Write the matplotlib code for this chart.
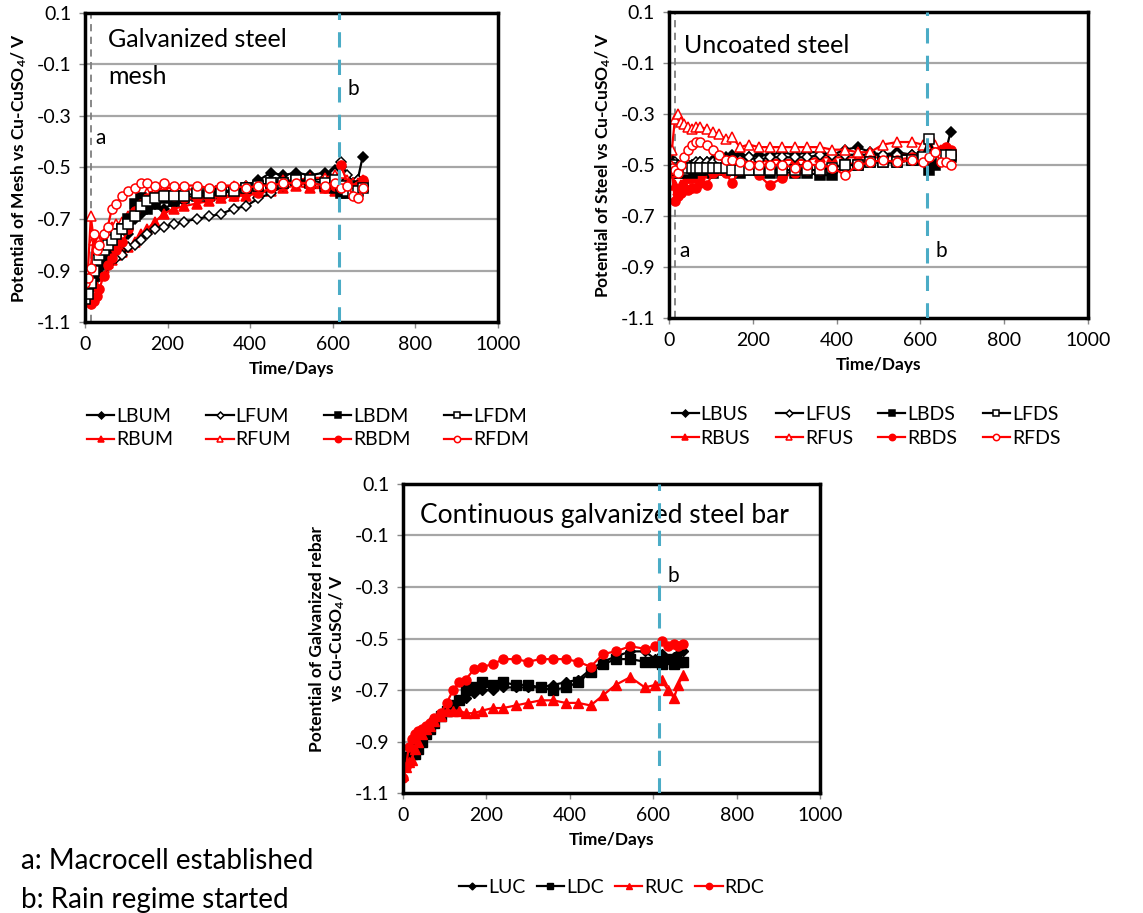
import matplotlib
matplotlib.use("Agg")
import matplotlib.pyplot as plt

plt.rcParams['font.family'] = ['Lato', 'DejaVu Sans']
plt.rcParams['mathtext.default'] = 'regular'

# Данные: время, сутки
days = [0, 7, 14, 21, 28, 35, 45, 55, 65, 75, 90, 105, 120, 135, 150, 170, 190, 215,
        240, 270, 300, 330, 360, 390, 420, 450, 480, 510, 545, 580, 605, 620, 635, 650, 660, 672]

# Оцинкованная сетка
LBUM = [-0.97, -0.96, -0.95, -0.96, -0.93, -0.90, -0.88, -0.86, -0.84, -0.83, -0.80, -0.76, -0.70, -0.68, -0.66, -0.64, -0.66, -0.64,
        -0.63, -0.62, -0.62, -0.60, -0.59, -0.57, -0.55, -0.52, -0.53, -0.52, -0.53, -0.52, -0.51, -0.50, -0.55, -0.57, -0.55, -0.46]
LFUM = [-0.98, -0.97, -0.95, -0.93, -0.92, -0.91, -0.89, -0.88, -0.86, -0.85, -0.84, -0.81, -0.80, -0.78, -0.76, -0.74, -0.73, -0.72,
        -0.71, -0.70, -0.69, -0.68, -0.66, -0.65, -0.62, -0.60, -0.57, -0.55, -0.55, -0.54, -0.52, -0.48, -0.53, -0.56, -0.55, -0.57]
LBDM = [-1.00, -0.98, -0.95, -0.92, -0.90, -0.88, -0.85, -0.83, -0.80, -0.78, -0.74, -0.70, -0.64, -0.62, -0.66, -0.64, -0.62, -0.63,
        -0.62, -0.61, -0.61, -0.60, -0.59, -0.58, -0.57, -0.56, -0.56, -0.55, -0.56, -0.57, -0.58, -0.60, -0.60, -0.58, -0.57, -0.57]
LFDM = [-1.01, -0.99, -0.95, -0.90, -0.86, -0.84, -0.82, -0.80, -0.78, -0.76, -0.74, -0.72, -0.69, -0.65, -0.63, -0.62, -0.61, -0.61,
        -0.61, -0.60, -0.60, -0.59, -0.59, -0.58, -0.57, -0.56, -0.56, -0.55, -0.55, -0.56, -0.55, -0.57, -0.59, -0.60, -0.59, -0.58]
RBUM = [-0.98, -0.97, -0.96, -0.94, -0.92, -0.91, -0.89, -0.87, -0.86, -0.84, -0.83, -0.81, -0.79, -0.76, -0.74, -0.71, -0.68, -0.66,
        -0.65, -0.64, -0.63, -0.62, -0.61, -0.61, -0.60, -0.59, -0.58, -0.57, -0.58, -0.58, -0.59, -0.57, -0.58, -0.56, -0.57, -0.55]
RFUM = [-0.95, -0.90, -0.69, -0.78, -0.80, -0.78, -0.76, -0.75, -0.73, -0.72, -0.71, -0.69, -0.65, -0.62, -0.60, -0.59, -0.58, -0.58,
        -0.58, -0.59, -0.59, -0.58, -0.57, -0.57, -0.57, -0.56, -0.55, -0.55, -0.54, -0.54, -0.53, -0.52, -0.55, -0.56, -0.56, -0.56]
RBDM = [-0.99, -1.00, -1.03, -1.02, -1.00, -0.97, -0.92, -0.88, -0.85, -0.82, -0.79, -0.74, -0.67, -0.64, -0.62, -0.61, -0.60, -0.61,
        -0.62, -0.62, -0.62, -0.61, -0.61, -0.60, -0.60, -0.58, -0.57, -0.56, -0.57, -0.58, -0.57, -0.49, -0.56, -0.58, -0.57, -0.55]
RFDM = [-0.95, -0.93, -0.89, -0.76, -0.82, -0.80, -0.76, -0.73, -0.66, -0.64, -0.61, -0.59, -0.58, -0.56, -0.56, -0.57, -0.56, -0.57,
        -0.57, -0.57, -0.58, -0.57, -0.57, -0.58, -0.57, -0.57, -0.56, -0.56, -0.56, -0.57, -0.56, -0.58, -0.57, -0.61, -0.62, -0.58]

# Сталь без покрытия
LBUS = [-0.49, -0.48, -0.50, -0.52, -0.52, -0.51, -0.50, -0.50, -0.50, -0.49, -0.49, -0.48, -0.48, -0.47, -0.46, -0.46, -0.47, -0.46,
        -0.46, -0.45, -0.46, -0.45, -0.45, -0.46, -0.44, -0.43, -0.45, -0.46, -0.45, -0.46, -0.45, -0.42, -0.46, -0.47, -0.45, -0.37]
LFUS = [-0.50, -0.50, -0.49, -0.50, -0.51, -0.51, -0.50, -0.50, -0.49, -0.49, -0.49, -0.49, -0.48, -0.48, -0.48, -0.48, -0.47, -0.48,
        -0.47, -0.47, -0.47, -0.47, -0.46, -0.46, -0.46, -0.46, -0.46, -0.46, -0.46, -0.46, -0.45, -0.44, -0.46, -0.45, -0.46, -0.46]
LBDS = [-0.50, -0.51, -0.52, -0.53, -0.53, -0.52, -0.52, -0.53, -0.52, -0.52, -0.52, -0.53, -0.52, -0.52, -0.52, -0.53, -0.52, -0.52,
        -0.53, -0.53, -0.53, -0.53, -0.54, -0.54, -0.50, -0.50, -0.49, -0.49, -0.49, -0.48, -0.48, -0.52, -0.50, -0.46, -0.47, -0.47]
LFDS = [-0.50, -0.50, -0.51, -0.52, -0.52, -0.52, -0.51, -0.51, -0.51, -0.51, -0.51, -0.51, -0.51, -0.51, -0.52, -0.52, -0.52, -0.52,
        -0.52, -0.52, -0.52, -0.52, -0.52, -0.51, -0.50, -0.50, -0.49, -0.49, -0.49, -0.48, -0.47, -0.40, -0.46, -0.47, -0.46, -0.46]
RBUS = [-0.50, -0.52, -0.58, -0.60, -0.58, -0.57, -0.55, -0.55, -0.54, -0.54, -0.53, -0.52, -0.51, -0.50, -0.50, -0.49, -0.49, -0.49,
        -0.48, -0.48, -0.48, -0.48, -0.47, -0.47, -0.47, -0.47, -0.47, -0.47, -0.46, -0.46, -0.46, -0.44, -0.46, -0.45, -0.45, -0.45]
RFUS = [-0.50, -0.44, -0.32, -0.30, -0.33, -0.34, -0.35, -0.36, -0.35, -0.35, -0.36, -0.37, -0.38, -0.40, -0.39, -0.43, -0.42, -0.43,
        -0.43, -0.43, -0.43, -0.43, -0.43, -0.44, -0.44, -0.45, -0.45, -0.42, -0.41, -0.41, -0.42, -0.44, -0.42, -0.44, -0.44, -0.45]
RBDS = [-0.51, -0.53, -0.64, -0.62, -0.61, -0.60, -0.60, -0.59, -0.59, -0.57, -0.58, -0.53, -0.52, -0.53, -0.57, -0.52, -0.51, -0.54,
        -0.58, -0.55, -0.53, -0.52, -0.52, -0.51, -0.50, -0.49, -0.48, -0.49, -0.48, -0.47, -0.47, -0.40, -0.45, -0.44, -0.43, -0.44]
RFDS = [-0.50, -0.51, -0.52, -0.53, -0.50, -0.47, -0.44, -0.42, -0.41, -0.41, -0.42, -0.44, -0.46, -0.48, -0.48, -0.49, -0.50, -0.50,
        -0.50, -0.50, -0.51, -0.50, -0.50, -0.51, -0.54, -0.50, -0.49, -0.48, -0.49, -0.48, -0.49, -0.47, -0.45, -0.49, -0.49, -0.50]

# Непрерывный оцинкованный стержень
LUC = [-0.97, -0.97, -0.96, -0.95, -0.94, -0.92, -0.89, -0.86, -0.84, -0.83, -0.80, -0.77, -0.76, -0.74, -0.73, -0.71, -0.70, -0.70,
       -0.69, -0.69, -0.69, -0.69, -0.68, -0.67, -0.66, -0.62, -0.59, -0.57, -0.55, -0.55, -0.58, -0.56, -0.58, -0.57, -0.56, -0.55]
LDC = [-0.97, -0.96, -0.96, -0.95, -0.95, -0.93, -0.90, -0.87, -0.85, -0.83, -0.80, -0.78, -0.76, -0.74, -0.70, -0.69, -0.67, -0.68,
       -0.67, -0.68, -0.68, -0.69, -0.70, -0.69, -0.67, -0.63, -0.60, -0.58, -0.58, -0.59, -0.59, -0.60, -0.58, -0.60, -0.59, -0.59]
RUC = [-1.03, -1.00, -0.98, -0.97, -0.93, -0.90, -0.87, -0.85, -0.84, -0.82, -0.80, -0.78, -0.78, -0.78, -0.79, -0.79, -0.78, -0.77,
       -0.77, -0.76, -0.75, -0.74, -0.74, -0.75, -0.75, -0.76, -0.72, -0.68, -0.65, -0.69, -0.68, -0.66, -0.70, -0.73, -0.68, -0.64]
RDC = [-1.04, -1.00, -0.92, -0.89, -0.87, -0.86, -0.85, -0.84, -0.83, -0.81, -0.79, -0.75, -0.70, -0.67, -0.66, -0.62, -0.61, -0.60,
       -0.58, -0.58, -0.59, -0.58, -0.58, -0.58, -0.59, -0.61, -0.56, -0.55, -0.53, -0.54, -0.53, -0.51, -0.53, -0.52, -0.53, -0.52]

day_a = 15
day_b = 615
yticks = [0.1, -0.1, -0.3, -0.5, -0.7, -0.9, -1.1]
xticks = [0, 200, 400, 600, 800, 1000]

RED = '#ff0000'
# стиль: (цвет, маркер, заливка)
styles = {
    'LBU': ('black', 'D', 'black'),
    'LFU': ('black', 'D', 'white'),
    'LBD': ('black', 's', 'black'),
    'LFD': ('black', 's', 'white'),
    'RBU': (RED, '^', RED),
    'RFU': (RED, '^', 'white'),
    'RBD': (RED, 'o', RED),
    'RFD': (RED, 'o', 'white'),
}


def setup(ax, ylabel, line_a=True):
    ax.set_xlim(0, 1000)
    ax.set_ylim(-1.1, 0.1)
    ax.set_xticks(xticks)
    ax.set_yticks(yticks)
    ax.set_yticklabels([f"{t:.1f}" for t in yticks])
    ax.tick_params(labelsize=14, length=4, width=1, color='#888888', pad=6)
    for t in yticks[1:-1]:
        ax.axhline(t, color='#a6a6a6', linewidth=1.6, zorder=0)
    for s in ax.spines.values():
        s.set_linewidth(2.5)
    ax.set_xlabel("Time/Days", fontsize=12.5, fontweight='bold', labelpad=6)
    ax.set_ylabel(ylabel, fontsize=12.5, fontweight='bold', labelpad=5)
    if line_a:
        ax.axvline(day_a, color='#7f7f7f', linestyle=(0, (4, 3)), linewidth=1.3, zorder=1)
    ax.axvline(day_b, color='#4bacc6', linestyle=(0, (5, 4)), linewidth=2.2, zorder=5)


def draw(ax, names, series, suffix):
    for name, y in zip(names, series):
        color, marker, face = styles[name]
        ms = 5 if marker == 'D' else 6.5
        ax.plot(days, y, color=color, marker=marker, markerfacecolor=face,
                markeredgecolor=color, markersize=ms, markeredgewidth=1.1,
                linewidth=1.6, label=name + suffix)


fig = plt.figure(figsize=(11.43, 9.13), dpi=100)

# Панель 1: сетка
ax1 = fig.add_axes([0.0744, 0.6473, 0.3613, 0.3385])
setup(ax1, "Potential of Mesh vs Cu-CuSO$_4$/ V")
order = ['LBU', 'RBU', 'LFU', 'RFU', 'LBD', 'RBD', 'LFD', 'RFD']
data1 = dict(LBU=LBUM, LFU=LFUM, LBD=LBDM, LFD=LFDM, RBU=RBUM, RFU=RFUM, RBD=RBDM, RFD=RFDM)
draw(ax1, order, [data1[k] for k in order], 'M')
ax1.text(55, 0.04, "Galvanized steel\nmesh", fontsize=18, linespacing=1.7, va='top')
ax1.text(25, -0.41, "a", fontsize=15)
ax1.text(635, -0.22, "b", fontsize=15)
ax1.legend(loc='upper center', bbox_to_anchor=(0.54, -0.22), ncol=4, frameon=False,
           fontsize=14, handlelength=1.4, handletextpad=0.1, columnspacing=1.7,
           labelspacing=0.35, markerscale=0.7)

# Панель 2: сталь без покрытия
ax2 = fig.add_axes([0.5853, 0.6517, 0.3666, 0.3352])
setup(ax2, "Potential of Steel vs Cu-CuSO$_4$/ V")
data2 = dict(LBU=LBUS, LFU=LFUS, LBD=LBDS, LFD=LFDS, RBU=RBUS, RFU=RFUS, RBD=RBDS, RFD=RFDS)
draw(ax2, order, [data2[k] for k in order], 'S')
ax2.text(35, -0.06, "Uncoated steel", fontsize=18)
ax2.text(25, -0.86, "a", fontsize=15)
ax2.text(635, -0.86, "b", fontsize=15)
ax2.legend(loc='upper center', bbox_to_anchor=(0.47, -0.23), ncol=4, frameon=False,
           fontsize=14, handlelength=1.4, handletextpad=0.1, columnspacing=1.3,
           labelspacing=0.35, markerscale=0.7)

# Панель 3: непрерывный стержень
ax3 = fig.add_axes([0.3526, 0.1314, 0.3648, 0.3385])
setup(ax3, "Potential of Galvanized rebar\nvs Cu-CuSO$_4$/ V", line_a=False)
for name, y, key in [('LUC', LUC, 'LBU'), ('LDC', LDC, 'LBD'), ('RUC', RUC, 'RBU'), ('RDC', RDC, 'RBD')]:
    color, marker, face = styles[key]
    ms = 5 if marker == 'D' else 6.5
    ax3.plot(days, y, color=color, marker=marker, markerfacecolor=face,
             markeredgecolor=color, markersize=ms, linewidth=1.6, label=name)
ax3.text(40, -0.05, "Continuous galvanized steel bar", fontsize=19)
ax3.text(635, -0.28, "b", fontsize=15)
ax3.legend(loc='upper center', bbox_to_anchor=(0.5, -0.22), ncol=4, frameon=False,
           fontsize=14, handlelength=1.4, handletextpad=0.1, columnspacing=0.6,
           markerscale=0.7)

# Пояснения
fig.text(0.018, 0.048, "a: Macrocell established", fontsize=20)
fig.text(0.018, 0.006, "b: Rain regime started", fontsize=20)

plt.savefig("out.png", dpi=100)
